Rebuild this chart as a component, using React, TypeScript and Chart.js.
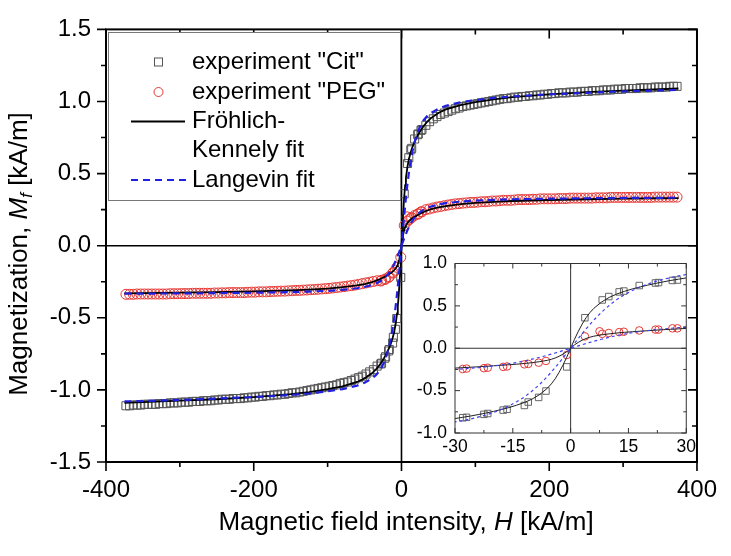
import React, { useEffect, useRef } from 'react';
import { Chart, registerables } from 'chart.js';
Chart.register(...registerables);

const FONT = '"Liberation Sans", Arial, Helvetica, sans-serif';

// ---- measured field values (kA/m) ----
const H_NEG = [-373,-368,-363,-358,-353,-348,-343,-338,-333,-328,-323,-318,-313,-308,-303,-298,-293,-288,-283,-278,-273,-268,-263,-258,-253,-248,-243,-238,-233,-228,-223,-218,-213,-208,-203,-198,-193,-188,-183,-178,-173,-168,-163,-158,-153,-148,-143,-138,-133,-128,-123,-118,-113,-108,-103,-98,-93,-88,-83,-78,-73,-68,-63,-58,-53,-48,-43,-38,-33];
const H_MID = [-28,-27,-22.5,-21.5,-17.5,-16.5,-12,-11,-8.3,-6.4,-1,3.7,7.5,8.2,9.9,12.6,13.8,17.8,22,22.8,26.4,27.7];
const H_POS = [33,38,43,48,53,58,63,68,73,78,83,88,93,98,103,108,113,118,123,128,133,138,143,148,153,158,163,168,173,178,183,188,193,198,203,208,213,218,223,228,233,238,243,248,253,258,263,268,273,278,283,288,293,298,303,308,313,318,323,328,333,338,343,348,353,358,363,368,373];

// ---- experiment "Cit" magnetization (kA/m) ----
const CIT_NEG = [-1.11,-1.11,-1.105,-1.105,-1.105,-1.10,-1.10,-1.10,-1.10,-1.095,
  -1.095,-1.095,-1.09,-1.09,-1.09,-1.085,-1.085,-1.085,-1.08,-1.08,
  -1.08,-1.075,-1.075,-1.075,-1.07,-1.07,-1.065,-1.065,-1.065,-1.06,
  -1.06,-1.06,-1.055,-1.055,-1.05,-1.05,-1.045,-1.045,-1.04,-1.04,
  -1.035,-1.035,-1.03,-1.03,-1.025,-1.02,-1.02,-1.015,-1.01,-1.005,
  -1.0,-0.995,-0.99,-0.985,-0.98,-0.975,-0.97,-0.965,-0.955,-0.95,
  -0.945,-0.935,-0.925,-0.915,-0.905,-0.89,-0.875,-0.86,-0.835];
const CIT_MID = [-0.82,-0.815,-0.78,-0.77,-0.73,-0.72,-0.675,-0.635,-0.58,-0.505,-0.22,0.36,null,0.57,0.61,0.665,0.675,0.74,0.77,0.775,0.80,0.805];
const CIT_POS = [0.835,0.86,0.88,0.895,0.91,0.92,0.93,0.94,0.95,0.955,
  0.965,0.97,0.975,0.98,0.985,0.99,0.995,1.0,1.005,1.01,
  1.015,1.02,1.02,1.025,1.03,1.03,1.035,1.035,1.04,1.04,
  1.045,1.045,1.05,1.05,1.055,1.055,1.06,1.06,1.06,1.065,
  1.065,1.065,1.07,1.07,1.07,1.075,1.075,1.075,1.08,1.08,
  1.08,1.085,1.085,1.085,1.09,1.09,1.09,1.09,1.095,1.095,
  1.095,1.095,1.10,1.10,1.10,1.10,1.105,1.105,1.105];

// ---- experiment "PEG" magnetization (kA/m) ----
const PEG_NEG = [-0.337,-0.337,-0.337,-0.335,-0.335,-0.335,-0.335,-0.335,-0.335,-0.335,
  -0.335,-0.335,-0.333,-0.333,-0.333,-0.332,-0.332,-0.332,-0.33,-0.33,
  -0.33,-0.33,-0.33,-0.33,-0.328,-0.328,-0.327,-0.327,-0.325,-0.325,
  -0.325,-0.325,-0.325,-0.323,-0.322,-0.322,-0.32,-0.32,-0.32,-0.318,
  -0.317,-0.316,-0.315,-0.315,-0.313,-0.312,-0.31,-0.31,-0.308,-0.307,
  -0.305,-0.304,-0.302,-0.30,-0.298,-0.296,-0.293,-0.29,-0.287,-0.284,
  -0.28,-0.277,-0.273,-0.268,-0.263,-0.258,-0.253,-0.248,-0.243];
const PEG_MID = [-0.245,-0.24,-0.235,-0.23,-0.22,-0.215,-0.19,-0.185,-0.17,-0.15,-0.08,0.14,0.20,0.17,0.18,0.19,0.195,0.21,0.22,0.22,0.235,0.235];
const PEG_POS = [0.25,0.255,0.262,0.268,0.272,0.277,0.282,0.286,0.29,0.292,
  0.295,0.297,0.30,0.30,0.302,0.305,0.305,0.307,0.31,0.31,
  0.312,0.315,0.315,0.315,0.317,0.32,0.32,0.32,0.32,0.322,
  0.322,0.325,0.325,0.325,0.325,0.325,0.327,0.327,0.327,0.33,
  0.33,0.33,0.33,0.33,0.33,0.33,0.332,0.332,0.332,0.332,
  0.335,0.335,0.335,0.335,0.335,0.335,0.335,0.335,0.335,0.335,
  0.335,0.335,0.337,0.337,0.337,0.337,0.337,0.337,0.337];

// ---- fit curves ----
const H_FIT = [-375,-350,-300,-250,-200,-150,-125,-100,-80,-60,-50,-40,-35,-30,-28,-26,-24,-22,-20,-18,-16,-14,-12,-10,-8,-6,-5,-4,-3,-2,-1,
  0,1,2,3,4,5,6,8,10,12,14,16,18,20,22,24,26,28,30,35,40,50,60,80,100,125,150,200,250,300,350,375];
const FK_CIT = [-1.09,-1.085,-1.075,-1.065,-1.05,-1.03,-1.015,-0.995,-0.975,-0.945,-0.92,-0.885,-0.86,-0.83,-0.815,-0.80,-0.783,-0.765,-0.745,-0.723,-0.70,-0.672,-0.64,-0.60,-0.545,-0.47,-0.42,-0.36,-0.285,-0.20,-0.105,
  0,0.105,0.20,0.285,0.36,0.42,0.47,0.545,0.60,0.64,0.672,0.70,0.723,0.745,0.765,0.783,0.80,0.815,0.83,0.86,0.885,0.92,0.945,0.975,0.995,1.015,1.03,1.05,1.065,1.075,1.085,1.09];
const FK_PEG = [-0.33,-0.329,-0.326,-0.322,-0.317,-0.31,-0.304,-0.297,-0.288,-0.275,-0.266,-0.253,-0.244,-0.234,-0.229,-0.224,-0.219,-0.213,-0.207,-0.201,-0.195,-0.188,-0.18,-0.17,-0.158,-0.142,-0.13,-0.115,-0.095,-0.07,-0.04,
  0,0.04,0.07,0.095,0.115,0.13,0.142,0.158,0.17,0.18,0.188,0.195,0.201,0.207,0.213,0.219,0.224,0.229,0.234,0.244,0.253,0.266,0.275,0.288,0.297,0.304,0.31,0.317,0.322,0.326,0.329,0.33];
const LG_CIT = [-1.08,-1.077,-1.07,-1.06,-1.05,-1.035,-1.025,-1.01,-0.995,-0.97,-0.95,-0.92,-0.90,-0.87,-0.854,-0.835,-0.812,-0.788,-0.758,-0.722,-0.682,-0.632,-0.575,-0.505,-0.425,-0.332,-0.28,-0.228,-0.172,-0.116,-0.058,
  0,0.058,0.116,0.172,0.228,0.28,0.332,0.425,0.505,0.575,0.632,0.682,0.722,0.758,0.788,0.812,0.835,0.854,0.87,0.90,0.92,0.95,0.97,0.995,1.01,1.025,1.035,1.05,1.06,1.07,1.077,1.08];
const LG_PEG = [-0.333,-0.332,-0.331,-0.329,-0.326,-0.322,-0.318,-0.313,-0.306,-0.295,-0.286,-0.272,-0.262,-0.25,-0.243,-0.236,-0.228,-0.219,-0.209,-0.197,-0.183,-0.168,-0.15,-0.129,-0.106,-0.082,-0.069,-0.056,-0.042,-0.028,-0.014,
  0,0.014,0.028,0.042,0.056,0.069,0.082,0.106,0.129,0.15,0.168,0.183,0.197,0.209,0.219,0.228,0.236,0.243,0.25,0.262,0.272,0.286,0.295,0.306,0.313,0.318,0.322,0.326,0.329,0.331,0.332,0.333];

// ---- ticks ----
const X_MAJOR = [-400, -200, 0, 200, 400];
const X_MINOR = [-300, -100, 100, 300];
const Y_MAJOR = [-1.5, -1, -0.5, 0, 0.5, 1, 1.5];
const Y_MINOR = [-1.25, -0.75, -0.25, 0.25, 0.75, 1.25];
const IX_MAJOR = [-30, -15, 0, 15, 30];
const IX_MINOR = [-22.5, -7.5, 7.5, 22.5];
const IY_MAJOR = [-1, -0.5, 0, 0.5, 1];
const IY_MINOR = [-0.75, -0.25, 0.25, 0.75];

const LEGEND_LABELS = ['experiment "Cit"', 'experiment "PEG"', 'Fröhlich-', 'Kennely fit', 'Langevin fit'];

const H_EXP = [...H_NEG, ...H_MID, ...H_POS];
const M_CIT = [...CIT_NEG, ...CIT_MID, ...CIT_POS];
const M_PEG = [...PEG_NEG, ...PEG_MID, ...PEG_POS];

const pts = (xs: number[], ys: (number | null)[]) =>
  xs.map((x, i) => ({ x, y: ys[i] })).filter((p) => p.y !== null) as { x: number; y: number }[];

function decor(cfg: any) {
  return {
    id: 'decor',
    beforeDatasetsDraw(chart: any) {
      const { ctx, chartArea: a, scales } = chart;
      const x0 = scales.x.getPixelForValue(0);
      const y0 = scales.y.getPixelForValue(0);
      ctx.save();
      ctx.strokeStyle = cfg.zeroColor;
      ctx.lineWidth = cfg.zeroWidth;
      ctx.beginPath();
      ctx.moveTo(x0, a.top); ctx.lineTo(x0, a.bottom);
      ctx.moveTo(a.left, y0); ctx.lineTo(a.right, y0);
      ctx.stroke();
      ctx.restore();
    },
    afterDatasetsDraw(chart: any) {
      const { ctx, chartArea: a, scales } = chart;
      ctx.save();
      ctx.strokeStyle = cfg.frameColor;
      ctx.lineWidth = cfg.tickWidth;
      const tickX = (vals: number[], len: number) => {
        for (const v of vals) {
          const px = scales.x.getPixelForValue(v);
          ctx.beginPath();
          if (cfg.outward) { ctx.moveTo(px, a.bottom); ctx.lineTo(px, a.bottom + len); }
          else { ctx.moveTo(px, a.bottom); ctx.lineTo(px, a.bottom - len); }
          ctx.moveTo(px, a.top); ctx.lineTo(px, a.top + len);
          ctx.stroke();
        }
      };
      const tickY = (vals: number[], len: number) => {
        for (const v of vals) {
          const py = scales.y.getPixelForValue(v);
          ctx.beginPath();
          if (cfg.outward) { ctx.moveTo(a.left - len, py); ctx.lineTo(a.left, py); }
          else { ctx.moveTo(a.left, py); ctx.lineTo(a.left + len, py); }
          ctx.moveTo(a.right - len, py); ctx.lineTo(a.right, py);
          ctx.stroke();
        }
      };
      tickX(cfg.xMajor, cfg.majorLen);
      tickX(cfg.xMinor, cfg.minorLen);
      tickY(cfg.yMajor, cfg.majorLen);
      tickY(cfg.yMinor, cfg.minorLen);
      ctx.lineWidth = cfg.frameWidth;
      ctx.strokeRect(a.left, a.top, a.right - a.left, a.bottom - a.top);
      ctx.restore();
    },
  };
}

const drawSegments = (ctx: CanvasRenderingContext2D, segs: any[], cx: number, baseY: number) => {
  let total = 0;
  for (const s of segs) { ctx.font = s.font; total += ctx.measureText(s.t).width; }
  let x = cx - total / 2;
  for (const s of segs) {
    ctx.font = s.font;
    ctx.fillText(s.t, x, baseY + (s.dy || 0));
    x += ctx.measureText(s.t).width;
  }
};

const mainExtras = {
  id: 'mainExtras',
  afterDraw(chart: any) {
    const { ctx } = chart;
    ctx.save();
    ctx.fillStyle = '#000';
    ctx.textBaseline = 'alphabetic';
    ctx.textAlign = 'left';
    // x title
    drawSegments(ctx, [
      { t: 'Magnetic field intensity, ', font: `26px ${FONT}` },
      { t: 'H', font: `italic 26px ${FONT}` },
      { t: ' [kA/m]', font: `26px ${FONT}` },
    ], 406, 530);
    // y title
    ctx.save();
    ctx.translate(27, 254);
    ctx.rotate(-Math.PI / 2);
    drawSegments(ctx, [
      { t: 'Magnetization, ', font: `26px ${FONT}` },
      { t: 'M', font: `italic 26px ${FONT}` },
      { t: 'f', font: `italic 17px ${FONT}`, dy: 5 },
      { t: ' [kA/m]', font: `26px ${FONT}` },
    ], 0, 0);
    ctx.restore();

    // legend
    ctx.fillStyle = '#fff';
    ctx.fillRect(108, 32, 293, 169);
    ctx.strokeStyle = '#777';
    ctx.lineWidth = 1;
    ctx.strokeRect(108.5, 32.5, 292, 168);
    const rows = [62, 92, 121.5, 150.5, 180];
    ctx.fillStyle = '#000';
    ctx.font = `24px ${FONT}`;
    ctx.textBaseline = 'middle';
    LEGEND_LABELS.forEach((t, i) => ctx.fillText(t, 192, rows[i]));
    // symbols
    ctx.strokeStyle = '#555';
    ctx.lineWidth = 1;
    ctx.strokeRect(154.5, rows[0] - 4, 8, 8);
    ctx.strokeStyle = '#e53935';
    ctx.beginPath(); ctx.arc(158.5, rows[1], 4.5, 0, Math.PI * 2); ctx.stroke();
    ctx.strokeStyle = '#000';
    ctx.lineWidth = 2;
    ctx.beginPath(); ctx.moveTo(131, rows[2]); ctx.lineTo(185, rows[2]); ctx.stroke();
    ctx.strokeStyle = '#2020e0';
    ctx.setLineDash([7, 5]);
    ctx.beginPath(); ctx.moveTo(131, rows[4]); ctx.lineTo(186, rows[4]); ctx.stroke();
    ctx.restore();
  },
};

export default function App() {
  const mainRef = useRef<HTMLCanvasElement>(null);
  const insetRef = useRef<HTMLCanvasElement>(null);

  useEffect(() => {
    document.body.style.margin = '0';
    const main = new Chart(mainRef.current as HTMLCanvasElement, {
      type: 'scatter',
      data: {
        datasets: [
          { label: 'Langevin Cit', data: pts(H_FIT, LG_CIT), showLine: true, pointRadius: 0, borderColor: '#2020e0', borderWidth: 2.2, borderDash: [7, 5], fill: false },
          { label: 'Langevin PEG', data: pts(H_FIT, LG_PEG), showLine: true, pointRadius: 0, borderColor: '#2020e0', borderWidth: 2.2, borderDash: [7, 5], fill: false },
          { label: 'FK Cit', data: pts(H_FIT, FK_CIT), showLine: true, pointRadius: 0, borderColor: '#000', borderWidth: 1.8, fill: false },
          { label: 'FK PEG', data: pts(H_FIT, FK_PEG), showLine: true, pointRadius: 0, borderColor: '#000', borderWidth: 1.8, fill: false },
          { label: 'PEG', data: pts(H_EXP, M_PEG), pointStyle: 'circle', pointRadius: 5, borderColor: '#e53935', backgroundColor: 'rgba(0,0,0,0)', borderWidth: 1 },
          { label: 'Cit', data: pts(H_EXP, M_CIT), pointStyle: 'rect', pointRadius: 5.7, borderColor: '#555', backgroundColor: 'rgba(0,0,0,0)', borderWidth: 1 },
        ],
      },
      options: {
        responsive: false,
        animation: false,
        devicePixelRatio: 1,
        events: [],
        layout: { padding: { top: 22, right: 27, left: 0, bottom: 0 } },
        plugins: { legend: { display: false }, tooltip: { enabled: false } },
        scales: {
          x: {
            type: 'linear', min: -400, max: 400,
            grid: { display: false, drawTicks: false },
            border: { display: false },
            ticks: { stepSize: 200, padding: 14, color: '#000', font: { family: FONT, size: 24 }, callback: (v: any) => String(v) },
            afterFit: (s: any) => { s.height = 94; },
          },
          y: {
            type: 'linear', min: -1.5, max: 1.5,
            grid: { display: false, drawTicks: false },
            border: { display: false },
            ticks: { stepSize: 0.5, padding: 15, color: '#000', font: { family: FONT, size: 24 }, callback: (v: any) => Number(v).toFixed(1) },
            afterFit: (s: any) => { s.width = 106; },
          },
        },
      } as any,
      plugins: [
        decor({ zeroColor: '#000', zeroWidth: 1.6, frameColor: '#000', frameWidth: 2, tickWidth: 1.6, outward: true, majorLen: 9, minorLen: 5, xMajor: X_MAJOR, xMinor: X_MINOR, yMajor: Y_MAJOR, yMinor: Y_MINOR }),
        mainExtras,
      ],
    });

    const inset = new Chart(insetRef.current as HTMLCanvasElement, {
      type: 'scatter',
      data: {
        datasets: [
          { label: 'Langevin Cit', data: pts(H_FIT, LG_CIT), showLine: true, pointRadius: 0, borderColor: '#4040f0', borderWidth: 1.2, borderDash: [3, 3], fill: false },
          { label: 'Langevin PEG', data: pts(H_FIT, LG_PEG), showLine: true, pointRadius: 0, borderColor: '#4040f0', borderWidth: 1.2, borderDash: [3, 3], fill: false },
          { label: 'FK Cit', data: pts(H_FIT, FK_CIT), showLine: true, pointRadius: 0, borderColor: '#222', borderWidth: 1, fill: false },
          { label: 'FK PEG', data: pts(H_FIT, FK_PEG), showLine: true, pointRadius: 0, borderColor: '#222', borderWidth: 1, fill: false },
          { label: 'PEG', data: pts(H_EXP, M_PEG), pointStyle: 'circle', pointRadius: 3.8, borderColor: '#e53935', backgroundColor: 'rgba(0,0,0,0)', borderWidth: 1 },
          { label: 'Cit', data: pts(H_EXP, M_CIT), pointStyle: 'rect', pointRadius: 4.6, borderColor: '#666', backgroundColor: 'rgba(0,0,0,0)', borderWidth: 1 },
        ],
      },
      options: {
        responsive: false,
        animation: false,
        devicePixelRatio: 1,
        events: [],
        layout: { padding: { top: 10, right: 12, left: 0, bottom: 0 } },
        plugins: { legend: { display: false }, tooltip: { enabled: false } },
        scales: {
          x: {
            type: 'linear', min: -30, max: 30,
            grid: { display: false, drawTicks: false },
            border: { display: false },
            ticks: { stepSize: 15, padding: 4, color: '#000', font: { family: FONT, size: 17.5 }, callback: (v: any) => String(v) },
            afterFit: (s: any) => { s.height = 27; },
          },
          y: {
            type: 'linear', min: -1, max: 1,
            grid: { display: false, drawTicks: false },
            border: { display: false },
            ticks: { stepSize: 0.5, padding: 8, color: '#000', font: { family: FONT, size: 17.5 }, callback: (v: any) => Number(v).toFixed(1) },
            afterFit: (s: any) => { s.width = 45; },
          },
        },
      } as any,
      plugins: [
        decor({ zeroColor: '#333', zeroWidth: 1, frameColor: '#333', frameWidth: 1, tickWidth: 1, outward: false, majorLen: 5, minorLen: 3, xMajor: IX_MAJOR, xMinor: IX_MINOR, yMajor: IY_MAJOR, yMinor: IY_MINOR }),
      ],
    });

    return () => { main.destroy(); inset.destroy(); };
  }, []);

  return (
    <div style={{ position: 'relative', width: 731, height: 556, background: '#fff', overflow: 'hidden' }}>
      <canvas ref={mainRef} width={731} height={556} style={{ position: 'absolute', left: 0, top: 0, width: 731, height: 556 }} />
      <canvas ref={insetRef} width={290} height={215} style={{ position: 'absolute', left: 410, top: 245, width: 290, height: 215 }} />
    </div>
  );
}
